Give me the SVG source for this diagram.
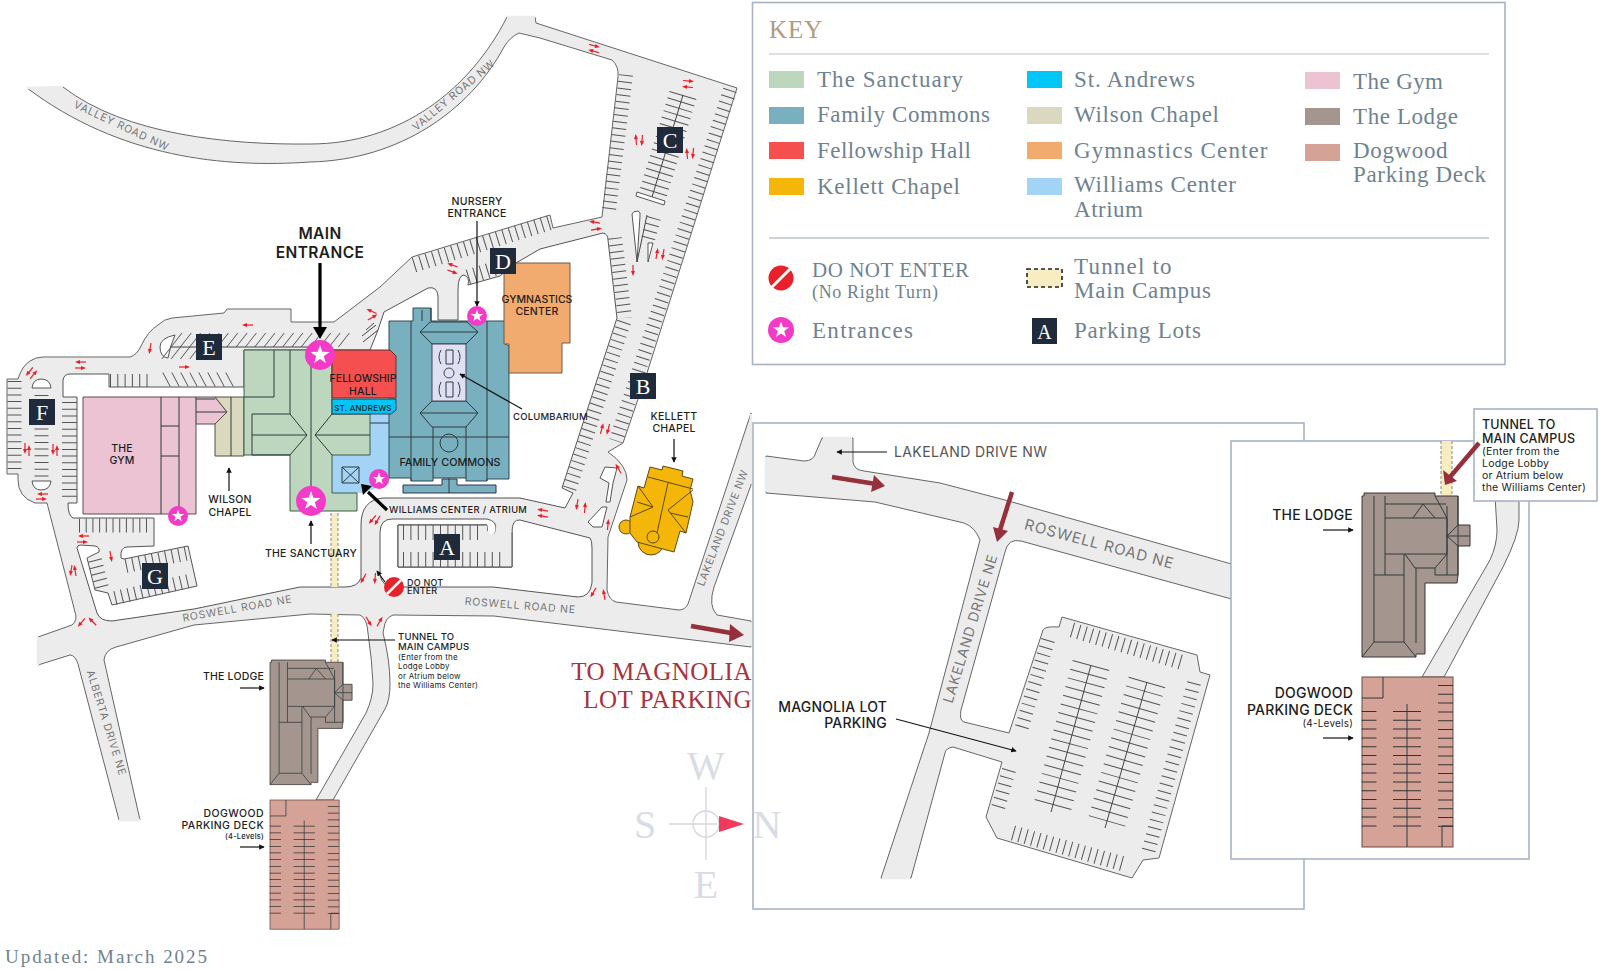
<svg xmlns="http://www.w3.org/2000/svg" xmlns:xlink="http://www.w3.org/1999/xlink" width="1600" height="970" viewBox="0 0 1600 970">
<style>
.rd{fill:#ececec;stroke:#666;stroke-width:1}
.isl{fill:#fff;stroke:#555;stroke-width:1}
.cut{stroke:#ececec;stroke-width:2.5;fill:none}
.st{fill:none;stroke:#555;stroke-width:14;stroke-dasharray:1 5.7}
.ln{fill:none;stroke:#444;stroke-width:1}
.in{fill:none;stroke:#2f3a3c;stroke-width:1}
.lb{font-family:Inter,"Liberation Sans",sans-serif;font-weight:500;font-size:10.5px;fill:#1d1d1d;letter-spacing:.2px}
.c{text-anchor:middle}
.e{text-anchor:end}
.rn{font-family:Inter,"Liberation Sans",sans-serif;font-size:10.5px;fill:#777;text-anchor:middle;letter-spacing:.8px}
.k{font-family:"Liberation Serif",serif;font-size:23px;fill:#6f8290}
.sw{stroke:none}
.box{fill:#1f2a3a}
.bl{font-family:"Liberation Serif",serif;font-size:22px;fill:#fff;text-anchor:middle}
.fr{fill:#fff;stroke:#a9b2c3;stroke-width:1.6}
.ar{fill:none;stroke:#111;stroke-width:1.2;marker-end:url(#ah)}
.big{fill:none;stroke:#000;stroke-width:3.2}
.dr{fill:none;stroke:#96303a;stroke-width:4.5}
.tn{fill:#f7edc0}
.tl{stroke:#8a8a70;stroke-width:1;stroke-dasharray:3 2;fill:none}
.cp{font-family:"Liberation Serif",serif;font-size:40px;fill:#d9dce5;text-anchor:middle}
</style>
<defs>
<marker id="ah" viewBox="0 0 8 8" refX="7" refY="4" markerWidth="5.5" markerHeight="5.5" markerUnits="userSpaceOnUse" orient="auto"><path d="M0,0L8,4L0,8Z" fill="#111"/></marker>
<g id="ra"><path d="M-6,0H1" stroke="#f01a24" stroke-width="1.2"/><path d="M0,-2L5,0L0,2Z" fill="#f01a24"/></g>
<polygon id="star" points="0,-1 .235,-.324 .951,-.309 .38,.124 .588,.809 0,.4 -.588,.809 -.38,.124 -.951,-.309 -.235,-.324" fill="#fff"/>
<g id="lodge">
<path d="M2,0H73V3H96V32H108V53H96V82L95,90H63V161H54V164H0V3H2Z" fill="#a4968e" stroke="#3a3330"/>
<path class="in" d="M12,3V149M23,3V82M23,11H84M23,25H85V61H23M73,3L85,25M51,25L61,11L73,25M43,61L53,75H73L85,61M42,61V149M54,75V150M73,75V82M12,82H42M73,82H96M85,13V82M96,3V82M0,164L12,149H42L54,164M85,43L96,32M85,43L96,53M85,43H108"/>
</g>
<g id="deck">
<rect width="91" height="170" fill="#d5a297" stroke="#6b4a44"/>
<path class="in" d="M0,21H21V0M80,170V149H91M45,27V170"/>
<path d="M45,34V156" fill="none" stroke="#333" stroke-width="28" stroke-dasharray="1 7.8"/>
<path d="M7,34V156M83.5,8V156" fill="none" stroke="#333" stroke-width="15" stroke-dasharray="1 7.8"/>
</g>
</defs>
<rect width="1600" height="970" fill="#fff"/>

<g id="roads">
<path class="rd" d="M38,637 L72,625 Q78,620 75,612 L47,503 L35,503 Q18,497 18,480 L18,474 L7,474 L7,379 L18,379 Q22,366 30,361 Q36,357 43,357 L130,357 Q137,355 141,346 Q148,331 158,325 Q164,319 172,318 L224,313 L227,309 L291,309 L291,322 L334,322 L380,287 L412,257 L550,215 L553,228 L602,217 L618,77 Q619,66 612,60 L540,38 L519,33 Q510,37 504,47 C470,110 400,160 310,162 C225,168 120,158 27,88 L63,87 C125,135 230,145 310,144 C400,144 470,90 507,17 L535,17 L536,23 L737,88 L686,250 L647,373 L623,443 L608,452 Q627,465 627,480 L608,537 L607,590 Q609,600 616,602 L679,610 Q685,610 688,604 L751,413 L751,485 L714,587 Q708,606 717,615 L751,621 L751,647 L494,616 L393,615 Q385,618 384,628 L383,633 Q390,660 390,684 Q390,700 385,709 L333,800 L316,800 L366,713 Q373,698 373,684 Q372,660 368,633 Q367,618 360,615 L310,614 L194,625 L116,647 Q105,650 104,660 L140,820 L119,820 L78,664 Q75,655 70,655 L38,665 Z"/>
<path class="isl" d="M112,621 Q100,621 97,613 L77,548 Q77,545 81,545 L95,546 Q100,547 99,552 L87,558 L95,590 L108,593 L112,605 L197,586 L188,546 L124,559 L121,558 Q120,547 127,547 L154,546 L154,518 L73,518 Q68,516 68,503 L77,503 L77,397 L63,397 L63,380 Q64,374 70,374 L109,374 L109,387 L244,387 L244,350 L370,350 L378,330 L384,312 L428,288 Q437,286 438,296 L438,320 L458,320 L458,290 Q458,275 464,275 Q470,277 468,285 L500,276 L516,263 L540,249 L603,233 Q608,234 608,240 L617,318 L562,488 L573,493 L565,508 L520,498 L383,498 Q361,500 361,525 L361,578 Q358,587 345,587 L300,587 L194,609 Z"/>
<path class="isl" d="M380,575 L380,533 Q380,519 392,519 L487,519 Q497,521 496,530 Q494,537 489,535 Q487,533 487,525 L398,525 L398,567 L512,567 L512,532 Q512,519 520,520 L590,538 Q592,540 592,548 L592,583 Q590,597 578,597 L493,587 L395,587 Q382,587 380,575 Z"/>
<path class="rd" style="stroke:none" d="M398,525H487V530Q489,535 494,534Q497,530 496,526L505,524L512,532V567H398Z"/>
<path class="ln" d="M487,525H398V567H512V532"/>
<path class="cut" d="M27,88L63,87M507,17L535,17M38,637V665M119,820H140M751,414V484M751,622V646"/>
<path class="isl" d="M32,388Q33,379 41,379Q50,379 51,388Z"/>
<path class="isl" d="M32,481H51Q50,490 41,490Q33,490 32,481Z"/>
<path class="isl" d="M175,335Q160,338 160,347Q160,357 168,358Q170,346 175,335Z"/>
<path class="isl" d="M605,467L617,468L613,483L610,502L606,502L609,483L600,478Z"/>
<path class="isl" d="M588,522L602,507L607,507L602,527L593,527Z"/>
<path class="isl" d="M632,214Q633,211 638,211Q641,212 640,216L637,262Z"/>
<path class="isl" d="M648,243L653,243L648,262Z"/>
<path class="isl" d="M637,192L665,201L664,205L636,196Z"/>
</g>

<g id="stalls">
<path class="st" d="M14.5,381V474"/>
<path class="st" d="M41.5,395V478"/>
<path class="st" style="stroke-width:15" d="M69.5,402V497"/>
<path class="st" d="M126,566L190,553"/>
<path class="st" d="M115,598L193,580"/>
<path class="st" d="M95,560L102,588"/>
<path class="st" d="M79,525.5H150"/>
<path class="st" d="M626,75L609,210"/>
<path class="st" d="M615,238L625,318"/>
<path class="st" d="M624,322L569,490"/>
<path class="st" d="M730,90L616,441"/>
<path class="st" style="stroke-width:28" d="M683,95L652,197"/>
<path class="ln" d="M683,95L652,197"/>
<path class="st" d="M654,218L647,243"/>
<path class="ln" d="M647,215L637,262"/>
<path class="st" style="stroke-width:15" d="M414,265L552,222"/>
<path class="st" style="stroke-width:15" d="M468,277L497,268"/>
<path class="st" style="stroke-width:15;stroke-dasharray:1 6.4" d="M403,532.5H480"/>
<path class="st" style="stroke-width:15;stroke-dasharray:1 6.4" d="M403,559.5H506"/>
<path class="st" style="stroke-width:13;stroke-dasharray:1 6.3" d="M110,380.5H150"/>
<path class="st" style="stroke-dasharray:1 8" transform="translate(166,379.5) skewX(28)" d="M0,0H64"/>
<path class="st" style="stroke-dasharray:1 8.3" transform="translate(176,340) skewX(-38)" d="M0,0H172"/>
<path class="st" style="stroke-width:12;stroke-dasharray:1 8.3" transform="translate(166,353) skewX(-38)" d="M0,0H32"/>
<path class="ln" d="M170,347H312"/>
<path class="ln" d="M363,342L378,330M362,336L376,325M366,330L374,323"/>
</g>

<g id="tunnel">
<rect class="tn" x="331" y="513" width="7" height="74"/>
<rect class="tn" x="331" y="614" width="7" height="48"/>
<path class="tl" d="M331,513V587M338,513V587M331,614V662M338,614V662"/>
</g>

<g id="the-gym">
<path d="M83,397H215L227,412L215,424H196V514H83Z" fill="#ebc3d2" stroke="#5a4b50"/>
<path class="in" d="M161,397V514M179,397V514M161,426H179M161,456H179M196,397V424M196,399H215M196,412H227"/>
<text class="lb c" x="122" y="452">THE</text><text class="lb c" x="122" y="464">GYM</text>
</g>
<g id="wilson-chapel">
<path d="M215,397H244V456H215V424L227,412Z" fill="#dad9bf" stroke="#4f4f40"/>
<path class="in" d="M231,397V456"/>
</g>
<g id="williams-atrium">
<path d="M332,455H370V414H389V483L363,493H332Z" fill="#a3d3f5"/>
<path class="in" d="M370,423H389"/>
<path class="in" d="M342,467H359V483H342ZM342,467L359,483M359,467L342,483"/>
</g>
<g id="the-sanctuary">
<path d="M244,350H332V414H370V455H332V493H357V511H290V455H244Z" fill="#bdd7bf" stroke="#3f5a48"/>
<path class="in" d="M244,397H274V350M290,350V414M311,350V513M252,414H290L307,435L290,455H252V414M252,435H307M332,414L315,435L332,455M315,435H370"/>
</g>
<g id="family-commons">
<path d="M442,479H457V485H496V493H403V485H442Z" fill="#79b0bf" stroke="#335"/>
<path d="M389,321H413V308H431V321H505V344L509,346V479H487V481H466V478H433V481H411V478H389Z" fill="#79b0bf" stroke="#2e4a50"/>
<path class="in" d="M411,321V481M487,321V481M389,437H509M420,332L430,322H467L478,332L466,344H432L420,332H478M420,413L432,401H466L478,413L466,427H432ZM420,413H478M433,427V478M466,427V478M422,310V321M431,308V321M449,478V493"/>
<circle class="in" cx="449" cy="443" r="9"/>
<rect x="432" y="344" width="34" height="57" fill="#e0e0f5" stroke="#445"/>
<path class="in" d="M446,350H453V364H446ZM446,382H453V397H446ZM441,350Q437,357 441,364M458,350Q462,357 458,364M441,382Q437,390 441,397M458,382Q462,390 458,397"/>
<circle cx="449" cy="373" r="5" fill="none" stroke="#445"/>
<text class="lb c" x="450" y="466" style="font-size:10.8px;letter-spacing:0">FAMILY COMMONS</text>
</g>
<g id="fellowship-hall">
<path d="M332,350H390L396,356V398H332Z" fill="#f5504f" stroke="#5c3232"/>
<text class="lb c" x="363" y="382" style="letter-spacing:0">FELLOWSHIP</text><text class="lb c" x="363" y="395">HALL</text>
</g>
<g id="st-andrews">
<path d="M332,399H396V410L391,414H332Z" fill="#00c5f7" stroke="#245"/>
<text class="lb c" x="363" y="411" style="font-size:8px">ST. ANDREWS</text>
</g>
<g id="gymnastics-center">
<path d="M504,263H570V343H562V373H509V344H504Z" fill="#f2ab6f" stroke="#6d5a48"/>
<text class="lb c" x="537" y="303" style="letter-spacing:0">GYMNASTICS</text><text class="lb c" x="537" y="315">CENTER</text>
</g>
<g id="kellett-chapel">
<circle cx="651" cy="542" r="13" fill="#f3b609" stroke="#5a4a10"/>
<circle cx="626" cy="527" r="7" fill="#f3b609" stroke="#5a4a10"/>
<path d="M650,467L662,470L663,466L683,471L682,476L693,479L690,490L693,502L686,533L680,531L674,552L637,542L630,533V517L638,486L644,488Z" fill="#f3b609" stroke="#5a4a10"/>
<path fill="none" stroke="#5a4a10" d="M648,477L693,489M668,483L657,533M638,486L653,507L630,517M637,502L653,507M693,490L668,510L686,533M670,513L688,517"/>
<circle cx="653" cy="537" r="6" fill="none" stroke="#5a4a10"/>
<text class="lb c" x="674" y="420">KELLETT</text><text class="lb c" x="674" y="432">CHAPEL</text>
</g>
<g id="the-lodge"><use xlink:href="#lodge" href="#lodge" transform="translate(270,660) scale(.76)"/>
<text class="lb e" x="264" y="680">THE LODGE</text></g>
<g id="dogwood-deck"><use xlink:href="#deck" href="#deck" transform="translate(270,800) scale(.76)"/>
<text class="lb e" x="264" y="817" style="letter-spacing:.4px">DOGWOOD</text><text class="lb e" x="264" y="829" style="letter-spacing:.4px">PARKING DECK</text><text class="lb e" x="264" y="839" style="font-size:7.5px">(4-Levels)</text></g>

<g id="road-labels">
<text class="rn" transform="translate(120,129) rotate(25)">VALLEY ROAD NW</text>
<text class="rn" transform="translate(456,98) rotate(-40)">VALLEY ROAD NW</text>
<text class="rn" transform="translate(238,612) rotate(-10)">ROSWELL ROAD NE</text>
<text class="rn" transform="translate(520,609) rotate(4.5)">ROSWELL ROAD NE</text>
<text class="rn" transform="translate(103,724) rotate(72.6)">ALBERTA DRIVE NE</text>
<text class="rn" transform="translate(726,529) rotate(-69)">LAKELAND DRIVE NW</text>
</g>

<g id="flow-arrows">
<use href="#ra" transform="translate(595,46) rotate(15)"/><use href="#ra" transform="translate(593,51) rotate(195)"/>
<use href="#ra" transform="translate(689,81) rotate(5)"/><use href="#ra" transform="translate(687,87) rotate(185)"/>
<use href="#ra" transform="translate(636,139) rotate(-95)"/><use href="#ra" transform="translate(642,141) rotate(95)"/>
<use href="#ra" transform="translate(687,153) rotate(-95)"/><use href="#ra" transform="translate(693,154) rotate(95)"/>
<use href="#ra" transform="translate(657,253) rotate(-80)"/><use href="#ra" transform="translate(663,255) rotate(100)"/>
<use href="#ra" transform="translate(594,222) rotate(190)"/><use href="#ra" transform="translate(597,229) rotate(-10)"/>
<use href="#ra" transform="translate(633,271) rotate(90)"/>
<use href="#ra" transform="translate(602,428) rotate(-75)"/><use href="#ra" transform="translate(608,430) rotate(105)"/>
<use href="#ra" transform="translate(618,468) rotate(-120)"/>
<use href="#ra" transform="translate(577,505) rotate(100)"/><use href="#ra" transform="translate(585,507) rotate(-85)"/>
<use href="#ra" transform="translate(608,524) rotate(-85)"/>
<use href="#ra" transform="translate(542,510) rotate(190)"/><use href="#ra" transform="translate(542,516) rotate(190)"/>
<use href="#ra" transform="translate(593,593) rotate(120)"/><use href="#ra" transform="translate(604,594) rotate(-100)"/>
<use href="#ra" transform="translate(369,622) rotate(60)"/><use href="#ra" transform="translate(380,621) rotate(-60)"/>
<use href="#ra" transform="translate(363,579) rotate(120)"/><use href="#ra" transform="translate(375,579) rotate(95)"/>
<use href="#ra" transform="translate(372,520) rotate(130)"/><use href="#ra" transform="translate(377,521) rotate(120)"/>
<use href="#ra" transform="translate(247,325) rotate(180)"/><use href="#ra" transform="translate(150,349) rotate(100)"/><use href="#ra" transform="translate(185,367)"/>
<use href="#ra" transform="translate(80,362) rotate(180)"/><use href="#ra" transform="translate(81,368)"/>
<use href="#ra" transform="translate(29,372) rotate(130)"/><use href="#ra" transform="translate(34,374) rotate(-50)"/>
<use href="#ra" transform="translate(25,449) rotate(90)"/><use href="#ra" transform="translate(29,450) rotate(-90)"/>
<use href="#ra" transform="translate(53,450) rotate(90)"/><use href="#ra" transform="translate(57,450) rotate(-90)"/>
<use href="#ra" transform="translate(42,494) rotate(180)"/><use href="#ra" transform="translate(42,499)"/>
<use href="#ra" transform="translate(83,536) rotate(180)"/><use href="#ra" transform="translate(83,542)"/>
<use href="#ra" transform="translate(111,557) rotate(80)"/>
<use href="#ra" transform="translate(71,571) rotate(100)"/><use href="#ra" transform="translate(75,570) rotate(-100)"/>
<use href="#ra" transform="translate(81,623) rotate(130)"/><use href="#ra" transform="translate(92,621) rotate(-135)"/>
<use href="#ra" transform="translate(371,311) rotate(205)"/><use href="#ra" transform="translate(373,317) rotate(-30)"/>
<use href="#ra" transform="translate(452,265) rotate(200)"/><use href="#ra" transform="translate(453,272) rotate(20)"/>
</g>

<g id="connectors">
<path class="big" d="M320,263V327"/><path d="M313,327H327L320,339Z"/>
<path class="ar" d="M477,221V306"/>
<path class="ar" d="M522,409L460,374"/>
<path class="ar" d="M674,439V462"/>
<path class="ar" d="M229,491V468"/>
<path class="ar" d="M311,544V521"/>
<path class="big" d="M387,510L368,492"/><path d="M372,487L363,496L361,485Z" transform="translate(0,-1)"/>
<path class="ar" d="M385,582L377,571"/>
<path class="ar" d="M395,640H332"/>
<path class="ar" d="M240,688H264"/>
<path class="ar" d="M240,847H264"/>
<path class="dr" d="M691,626L734,633.5"/><path d="M730,624L744,635L729,642Z" fill="#96303a"/>
</g>

<g id="labels">
<text class="lb c" x="320" y="239" style="font-size:15.5px;font-weight:600;letter-spacing:.4px">MAIN</text>
<text class="lb c" x="320" y="258" style="font-size:15.5px;font-weight:600;letter-spacing:.4px">ENTRANCE</text>
<text class="lb c" x="477" y="205">NURSERY</text><text class="lb c" x="477" y="217">ENTRANCE</text>
<text class="lb" x="513" y="420" style="font-size:9.5px">COLUMBARIUM</text>
<text class="lb c" x="230" y="503">WILSON</text><text class="lb c" x="230" y="516">CHAPEL</text>
<text class="lb c" x="311" y="557">THE SANCTUARY</text>
<text class="lb" x="389" y="513" style="font-size:9.3px;letter-spacing:.35px">WILLIAMS CENTER / ATRIUM</text>
<text class="lb" x="407" y="586" style="font-size:9px">DO NOT</text><text class="lb" x="407" y="594" style="font-size:9px">ENTER</text>
<text class="lb" x="398" y="640" style="font-size:9.5px">TUNNEL TO</text><text class="lb" x="398" y="650" style="font-size:9.5px">MAIN CAMPUS</text>
<text class="lb" x="398" y="660" style="font-size:8px;font-weight:400">(Enter from the</text><text class="lb" x="398" y="669" style="font-size:8px;font-weight:400">Lodge Lobby</text><text class="lb" x="398" y="679" style="font-size:8px;font-weight:400">or Atrium below</text><text class="lb" x="398" y="688" style="font-size:8px;font-weight:400">the Williams Center)</text>
</g>

<g id="entrances">
<g transform="translate(320,355)"><circle r="15" fill="#f43ac8"/><use href="#star" transform="scale(10)"/></g>
<g transform="translate(311,501)"><circle r="15" fill="#f43ac8"/><use href="#star" transform="scale(10)"/></g>
<g transform="translate(477,316)"><circle r="10" fill="#f43ac8"/><use href="#star" transform="scale(6.5)"/></g>
<g transform="translate(379,479)"><circle r="10" fill="#f43ac8"/><use href="#star" transform="scale(6.5)"/></g>
<g transform="translate(178,516)"><circle r="10" fill="#f43ac8"/><use href="#star" transform="scale(6.5)"/></g>
</g>
<g id="do-not-enter"><circle cx="394" cy="587" r="10" fill="#e8202a"/><path d="M387,594L401,580" stroke="#fff" stroke-width="2.5"/></g>

<g id="lot-letters">
<g id="lot-A"><rect class="box" x="434" y="534" width="26" height="26"/><text class="bl" x="447" y="555">A</text></g>
<g id="lot-B"><rect class="box" x="630" y="373" width="26" height="26"/><text class="bl" x="643" y="394">B</text></g>
<g id="lot-C"><rect class="box" x="657" y="127" width="26" height="26"/><text class="bl" x="670" y="148">C</text></g>
<g id="lot-D"><rect class="box" x="490" y="248" width="26" height="26"/><text class="bl" x="503" y="269">D</text></g>
<g id="lot-E"><rect class="box" x="196" y="334" width="26" height="26"/><text class="bl" x="209" y="355">E</text></g>
<g id="lot-F"><rect class="box" x="29" y="399" width="26" height="26"/><text class="bl" x="42" y="420">F</text></g>
<g id="lot-G"><rect class="box" x="142" y="563" width="26" height="26"/><text class="bl" x="155" y="584">G</text></g>
</g>

<text id="updated" x="5" y="963" textLength="202" style="font-family:'Liberation Serif',serif;font-size:19px;fill:#6f8290">Updated: March 2025</text>
<g id="to-magnolia" style="font-family:'Liberation Serif',serif;font-size:25px;fill:#a8323e;letter-spacing:.5px;text-anchor:end">
<text x="752" y="680">TO MAGNOLIA</text><text x="752" y="708">LOT PARKING</text></g>

<g id="key">
<rect class="fr" x="752.5" y="2.5" width="752.5" height="362"/>
<text x="769" y="38" style="font-family:'Liberation Serif',serif;font-size:25px;fill:#b39c80;letter-spacing:1px">KEY</text>
<path d="M769,54H1489" stroke="#b9c1cc" fill="none"/><path d="M769,238H1489" stroke="#9aa4b2" fill="none"/>
<rect class="sw" x="769" y="71" width="35" height="17" fill="#bdd7bf"/><text class="k" x="817" y="87" textLength="146">The Sanctuary</text>
<rect class="sw" x="769" y="107" width="35" height="17" fill="#79b0bf"/><text class="k" x="817" y="122" textLength="173">Family Commons</text>
<rect class="sw" x="769" y="142" width="35" height="17" fill="#f5504f"/><text class="k" x="817" y="158" textLength="154">Fellowship Hall</text>
<rect class="sw" x="769" y="178" width="35" height="17" fill="#f3b609"/><text class="k" x="817" y="194" textLength="143">Kellett Chapel</text>
<rect class="sw" x="1027" y="71" width="35" height="17" fill="#00c5f7"/><text class="k" x="1074" y="87" textLength="121">St. Andrews</text>
<rect class="sw" x="1027" y="107" width="35" height="17" fill="#dad9bf"/><text class="k" x="1074" y="122" textLength="145">Wilson Chapel</text>
<rect class="sw" x="1027" y="142" width="35" height="17" fill="#f2ab6f"/><text class="k" x="1074" y="158" textLength="193.5">Gymnastics Center</text>
<rect class="sw" x="1027" y="178" width="35" height="17" fill="#a3d3f5"/><text class="k" x="1074" y="192" textLength="162">Williams Center</text><text class="k" x="1074" y="217" textLength="69">Atrium</text>
<rect class="sw" x="1305" y="72" width="35" height="17" fill="#ebc3d2"/><text class="k" x="1353" y="89" textLength="90">The Gym</text>
<rect class="sw" x="1305" y="108" width="35" height="17" fill="#a4968e"/><text class="k" x="1353" y="124" textLength="105">The Lodge</text>
<rect class="sw" x="1305" y="144" width="35" height="17" fill="#d5a297"/><text class="k" x="1353" y="158" textLength="94.5">Dogwood</text><text class="k" x="1353" y="182" textLength="133">Parking Deck</text>
<circle cx="781" cy="278" r="12.5" fill="#e8202a"/><path d="M772,287L790,269" stroke="#fff" stroke-width="3"/>
<text class="k" x="812" y="277" textLength="157" style="font-size:21px">DO NOT ENTER</text><text class="k" x="812" y="298" textLength="126" style="font-size:18px">(No Right Turn)</text>
<rect x="1027" y="269" width="35" height="18" fill="#f7edc0" stroke="#222" stroke-width="1.6" stroke-dasharray="4 3"/>
<text class="k" x="1074" y="274" textLength="97.5">Tunnel to</text><text class="k" x="1074" y="298" textLength="137">Main Campus</text>
<circle cx="781" cy="330" r="13" fill="#f43ac8"/><use href="#star" transform="translate(781,330) scale(8.5)"/>
<text class="k" x="812" y="338" textLength="101">Entrances</text>
<rect class="box" x="1032" y="318" width="25" height="26"/><text class="bl" x="1044.5" y="339" style="font-size:20px">A</text>
<text class="k" x="1074" y="338" textLength="127">Parking Lots</text>
</g>

<g id="magnolia-inset">
<rect class="fr" x="753" y="423" width="551" height="486"/>
<path class="rd" d="M766,456 L804,461 Q814,461 816,452 L822,438 L853,438 L853,462 Q854,470 864,471 L940,483 L1005,500 L1235,565 L1235,600 L1021,541 Q1008,538 1005,552 L961,710 Q959,720 964,722 L1009,733 L1043,630 Q1045,626 1059,627 L1062,617 L1197,655 L1200,672 L1210,675 L1159,858 L1143,860 L1132,878 L997,838 L986,817 L1002,762 L953,747 Q946,748 945,753 L911,878 L881,878 L929,733 L980,540 Q975,527 964,523 L875,502 L766,493 Z"/>
<path class="cut" d="M766,457V492M823,438H852M882,878H910"/>
<path class="st" style="stroke-width:15;stroke-dasharray:1 5.6" d="M1072,630L1184,663"/>
<path class="st" style="stroke-dasharray:1 6.5" d="M1048,640L1021,730"/>
<path class="st" style="stroke-dasharray:1 6.5" d="M1009,770L998,808"/>
<path class="st" style="stroke-width:15;stroke-dasharray:1 5.6" d="M1013,833L1127,865"/>
<path class="st" style="stroke-dasharray:1 6.5" d="M1194,683L1148,853"/>
<path class="st" style="stroke-width:38;stroke-dasharray:1 8" d="M1091,665L1051,812"/>
<path class="st" style="stroke-width:38;stroke-dasharray:1 8" d="M1147,682L1105,828"/>
<path class="ln" d="M1091,665L1051,812M1147,682L1105,828"/>
<text class="rn" style="font-size:15px" transform="translate(1098,549) rotate(15)">ROSWELL ROAD NE</text>
<text class="rn" style="font-size:14px" transform="translate(975,630) rotate(-73)">LAKELAND DRIVE NE</text>
<text x="894" y="457" textLength="153" style="font-family:Inter,'Liberation Sans',sans-serif;font-size:14px;fill:#555">LAKELAND DRIVE NW</text>
<path class="ar" d="M887,452H837"/>
<text class="lb e" x="887" y="712" style="font-size:14px">MAGNOLIA LOT</text><text class="lb e" x="887" y="728" style="font-size:14px">PARKING</text>
<path class="ar" d="M896,719L1016,751"/>
<path class="dr" d="M832,477L876,484"/><path d="M874,475L885,486L871,492Z" fill="#96303a"/>
<path class="dr" d="M1012,492L1000,530"/><path d="M993,527L997,542L1008,531Z" fill="#96303a"/>
</g>

<g id="lodge-inset">
<rect class="fr" x="1231" y="441" width="298" height="418"/>
<rect class="tn" x="1441" y="441" width="11" height="56"/>
<path class="tl" d="M1441,441V497M1452,441V497"/>
<path class="rd" d="M1495,495L1497,530Q1497,545 1490,560L1422,677H1444L1503,567Q1519,535 1519,520V495Z"/>
<use href="#lodge" transform="translate(1362,493)"/>
<use href="#deck" transform="translate(1362,677)"/>
<text class="lb e" x="1353" y="520" style="font-size:14px">THE LODGE</text>
<path class="ar" d="M1323,530H1353"/>
<text class="lb e" x="1353" y="698" style="font-size:14px">DOGWOOD</text><text class="lb e" x="1353" y="715" style="font-size:14px">PARKING DECK</text><text class="lb e" x="1353" y="727" style="font-size:10px;font-weight:400">(4-Levels)</text>
<path class="ar" d="M1323,738H1353"/>
<rect class="fr" x="1474" y="409" width="123" height="92"/>
<text class="lb" x="1482" y="429" style="font-size:12.5px">TUNNEL TO</text><text class="lb" x="1482" y="443" style="font-size:12.5px">MAIN CAMPUS</text>
<text class="lb" x="1482" y="455" style="font-size:10.5px;font-weight:400">(Enter from the</text><text class="lb" x="1482" y="467" style="font-size:10.5px;font-weight:400">Lodge Lobby</text><text class="lb" x="1482" y="479" style="font-size:10.5px;font-weight:400">or Atrium below</text><text class="lb" x="1482" y="491" style="font-size:10.5px;font-weight:400">the Williams Center)</text>
<path class="dr" d="M1479,443L1450,477"/><path d="M1443,470L1445,485L1457,481Z" fill="#96303a"/>
</g>

<g id="compass">
<path d="M669,824H717M706,787V860" stroke="#d3d6de" stroke-width="1.3" fill="none"/>
<circle cx="706" cy="824" r="13" fill="none" stroke="#d3d6de" stroke-width="1.3"/>
<path d="M719,816L744,824L719,832Z" fill="#f2385c"/>
<text class="cp" x="706" y="779">W</text><text class="cp" x="645" y="838">S</text><text class="cp" x="706" y="898">E</text><text class="cp" x="767" y="838">N</text>
</g>
</svg>
